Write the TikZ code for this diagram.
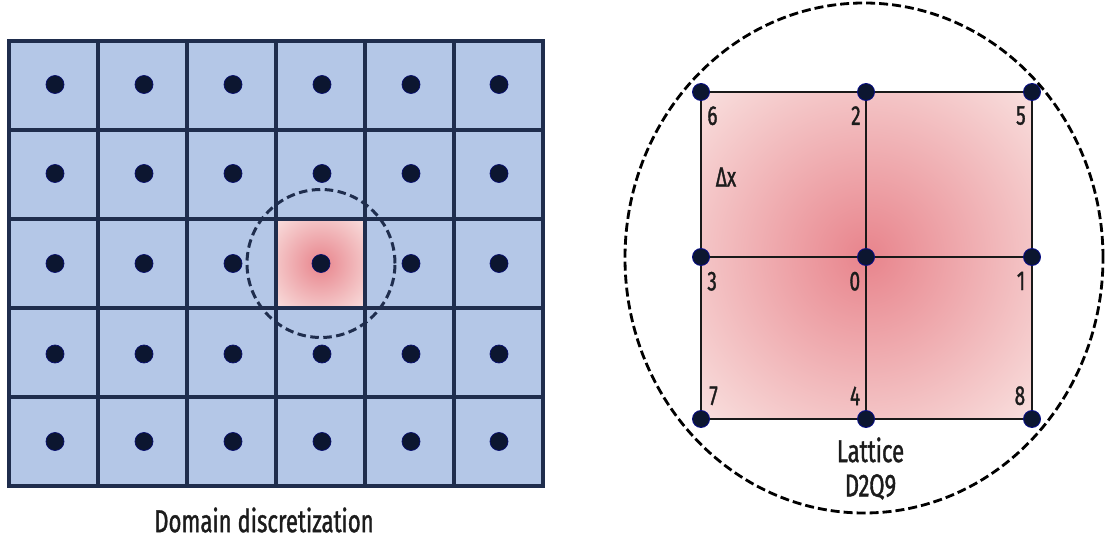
\documentclass[tikz,border=0pt]{standalone}
\usepackage{fontspec}
\setmainfont{Fira Sans}[FakeStretch=0.7,FakeBold=1.2]
\usetikzlibrary{positioning}
\definecolor{cellblue}{HTML}{B4C7E7}
\definecolor{gridnavy}{HTML}{1F2D4D}
\definecolor{dotnavy}{HTML}{0C1630}
\definecolor{glowin}{HTML}{E8848C}
\definecolor{glowout}{HTML}{F8DCDB}
\definecolor{inkgray}{HTML}{1C1C1C}
\pgfdeclareradialshading{cellglow}{\pgfpoint{0bp}{0bp}}{color(0bp)=(glowin); color(34bp)=(glowout); color(50bp)=(glowout)}

\begin{document}
\begin{tikzpicture}[
  gridline/.style={draw=gridnavy,line width=2pt},
  latline/.style={draw=black!90,line width=1.2pt},
  gdot/.style={circle,fill=dotnavy,draw=dotnavy!70!blue,line width=0.4pt,minimum size=0.36cm,inner sep=0pt},
  ldot/.style={circle,fill=dotnavy,draw=dotnavy!60!blue,line width=0.5pt,minimum size=0.34cm,inner sep=0pt},
  num/.style={font=\fontsize{15.5}{16}\selectfont,text=inkgray,inner sep=0pt},
  caption/.style={font=\fontsize{18}{19.5}\selectfont,text=inkgray,align=center,inner sep=0pt}
]
\useasboundingbox (0,0) rectangle (22.1,-10.86);

% computational domain
\fill[cellblue] (0.18,-0.82) rectangle (10.86,-9.72);
\shade[shading=cellglow] (5.52,-4.38) rectangle (7.30,-6.16);
\draw[gridline] (0.18,-0.82) rectangle (10.86,-9.72);
\draw[gridline] (1.96,-0.82) -- (1.96,-9.72) (3.74,-0.82) -- (3.74,-9.72) (5.52,-0.82) -- (5.52,-9.72)
  (7.30,-0.82) -- (7.30,-9.72) (9.08,-0.82) -- (9.08,-9.72);
\draw[gridline] (0.18,-2.60) -- (10.86,-2.60) (0.18,-4.38) -- (10.86,-4.38)
  (0.18,-6.16) -- (10.86,-6.16) (0.18,-7.94) -- (10.86,-7.94);

\node[gdot] (d11) at (1.10,-1.69) {};
\node[gdot] (d12) at (2.88,-1.69) {};
\node[gdot] (d13) at (4.66,-1.69) {};
\node[gdot] (d14) at (6.44,-1.69) {};
\node[gdot] (d15) at (8.22,-1.69) {};
\node[gdot] (d16) at (9.98,-1.69) {};
\node[gdot] (d21) at (1.10,-3.47) {};
\node[gdot] (d22) at (2.88,-3.47) {};
\node[gdot] (d23) at (4.66,-3.47) {};
\node[gdot] (d24) at (6.44,-3.47) {};
\node[gdot] (d25) at (8.22,-3.47) {};
\node[gdot] (d26) at (9.98,-3.47) {};
\node[gdot] (d31) at (1.10,-5.27) {};
\node[gdot] (d32) at (2.88,-5.27) {};
\node[gdot] (d33) at (4.66,-5.27) {};
\node[gdot] (d34) at (6.42,-5.27) {};
\node[gdot] (d35) at (8.22,-5.27) {};
\node[gdot] (d36) at (9.98,-5.27) {};
\node[gdot] (d41) at (1.10,-7.08) {};
\node[gdot] (d42) at (2.88,-7.08) {};
\node[gdot] (d43) at (4.66,-7.08) {};
\node[gdot] (d44) at (6.44,-7.08) {};
\node[gdot] (d45) at (8.22,-7.08) {};
\node[gdot] (d46) at (9.98,-7.08) {};
\node[gdot] (d51) at (1.10,-8.83) {};
\node[gdot] (d52) at (2.88,-8.83) {};
\node[gdot] (d53) at (4.66,-8.83) {};
\node[gdot] (d54) at (6.44,-8.83) {};
\node[gdot] (d55) at (8.22,-8.83) {};
\node[gdot] (d56) at (9.98,-8.83) {};

\node[circle,draw=gridnavy,line width=1.7pt,dash pattern=on 0.17cm off 0.09cm,minimum size=2.96cm,inner sep=0pt] (zoom) at (d34) {};
\node[caption] (domcap) at (5.28,-10.40) {Domain discretization};

% D2Q9 lattice
\shade[shading=cellglow] (14.02,-1.84) rectangle (20.64,-8.38);
\node[ldot] (n6) at (14.02,-1.84) {};
\node[ldot] (n2) at (17.32,-1.84) {};
\node[ldot] (n5) at (20.64,-1.84) {};
\node[ldot] (n3) at (14.02,-5.14) {};
\node[ldot] (n0) at (17.32,-5.14) {};
\node[ldot] (n1) at (20.64,-5.14) {};
\node[ldot] (n7) at (14.02,-8.38) {};
\node[ldot] (n4) at (17.32,-8.38) {};
\node[ldot] (n8) at (20.64,-8.38) {};
\draw[latline] (n6) -- (n2) (n2) -- (n5) (n5) -- (n1) (n1) -- (n8) (n8) -- (n4) (n4) -- (n7)
  (n7) -- (n3) (n3) -- (n6) (n3) -- (n0) (n0) -- (n1) (n2) -- (n0) (n0) -- (n4);

\node[num,below right=0.28cm and 0.12cm of n6.center] (l6) {6};
\node[num,below left=0.28cm and 0.1cm of n2.center] (l2) {2};
\node[num,below left=0.28cm and 0.12cm of n5.center] (l5) {5};
\node[num,below right=0.29cm and 0.12cm of n3.center] (l3) {3};
\node[num,below left=0.29cm and 0.11cm of n0.center] (l0) {0};
\node[num,below left=0.29cm and 0.13cm of n1.center] (l1) {1};
\node[num,above right=0.27cm and 0.16cm of n7.center] (l7) {7};
\node[num,above left=0.27cm and 0.11cm of n4.center] (l4) {4};
\node[num,above left=0.27cm and 0.13cm of n8.center] (l8) {8};
\node[num] (dx) at (14.52,-3.54) {Δx};

\draw[black,line width=1.6pt,dash pattern=on 0.18cm off 0.08cm] (17.28,-5.16) ellipse [x radius=4.78, y radius=5.10];
\node[caption] (latcap) at (17.41,-9.37) {Lattice\\D2Q9};
\end{tikzpicture}
\end{document}
